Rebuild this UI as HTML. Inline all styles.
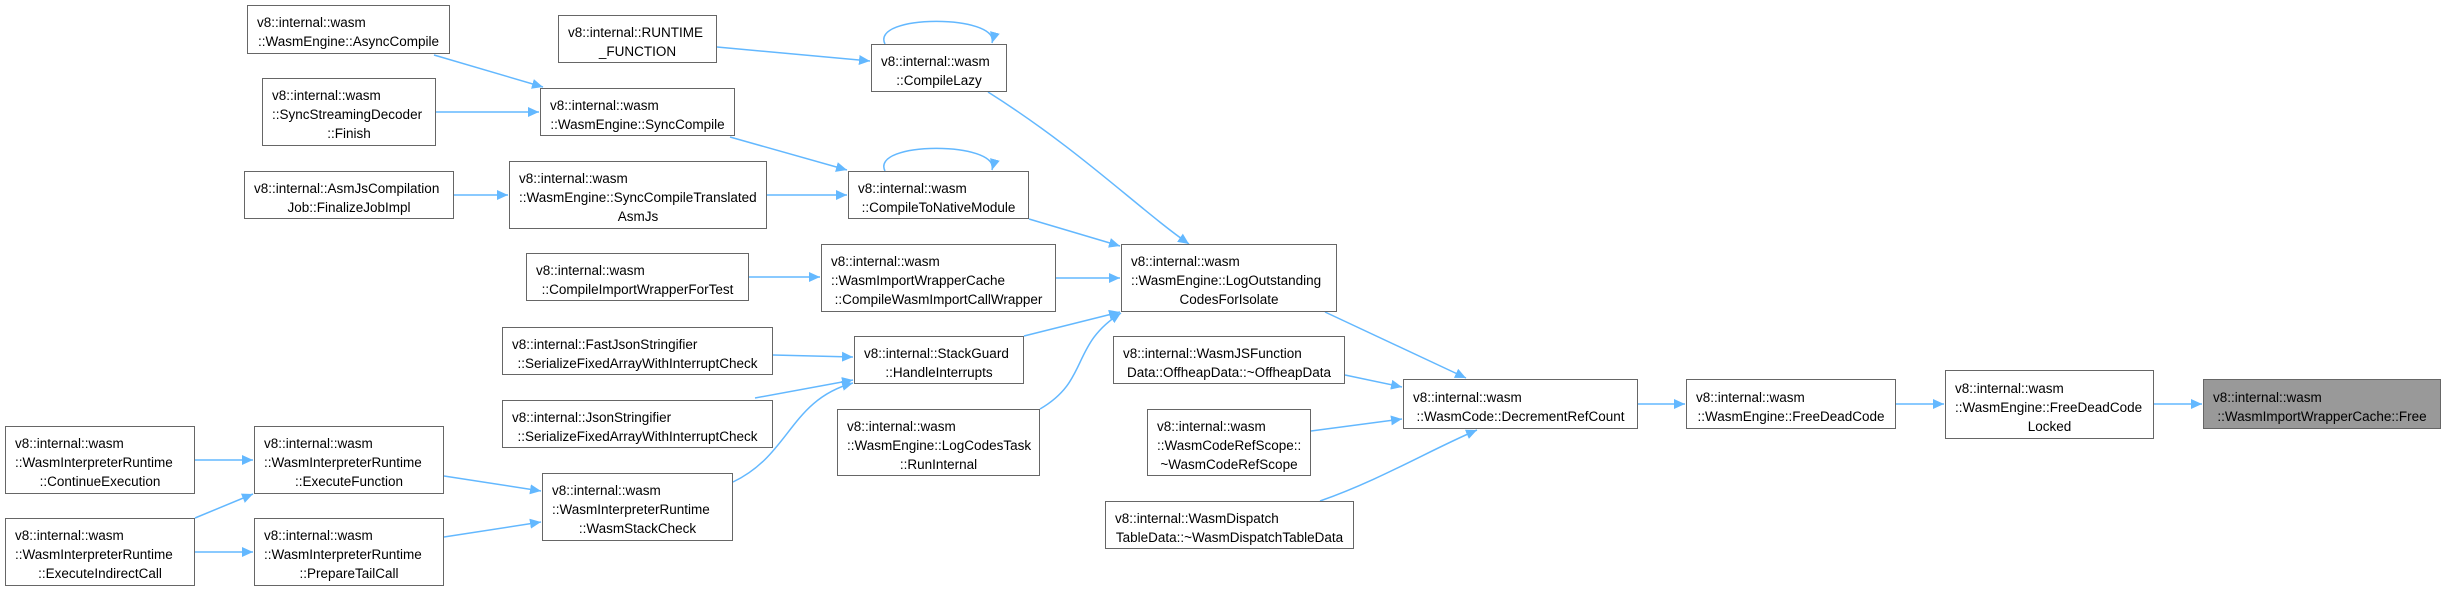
<!DOCTYPE html>
<html><head><meta charset="utf-8"><style>
body{margin:0;width:2442px;height:592px;background:#fff;position:relative;overflow:hidden;font-family:"Liberation Sans","DejaVu Sans",sans-serif;}
.n{position:absolute;box-sizing:border-box;border:1.5px solid #666;background:#fff;font-size:13.5px;line-height:19px;color:#000;padding:5px 9px 0 9px;white-space:nowrap;display:flex;flex-direction:column;justify-content:center;}
.n div{text-align:left}
.n div.c{text-align:center}
svg{position:absolute;left:0;top:0}
</style></head><body>
<svg width="2442" height="592">
<defs><marker id="a" markerWidth="12" markerHeight="10" refX="11" refY="5" orient="auto" markerUnits="userSpaceOnUse"><path d="M0,0 L11,5 L0,10 z" fill="#63b8ff"/></marker></defs>
<g stroke="#63b8ff" stroke-width="1.5" fill="none" marker-end="url(#a)">
<path d="M434,55 L543,87"/>
<path d="M436,112 L539,112"/>
<path d="M454,195 L508,195"/>
<path d="M717,47 L870,61"/>
<path d="M730,137 L847,170"/>
<path d="M767,195 L847,195"/>
<path d="M749,277 L820,277"/>
<path d="M773,355 L853,357"/>
<path d="M755,398 L853,380"/>
<path d="M733,482 C790,455 790,400 853,383"/>
<path d="M195,460 L253,460"/>
<path d="M195,518 L253,494"/>
<path d="M195,552 L253,552"/>
<path d="M444,476 L541,491"/>
<path d="M444,537 L541,522"/>
<path d="M988,92 C1080,150 1140,210 1189,244"/>
<path d="M1029,219 L1120,246"/>
<path d="M1056,278 L1120,278"/>
<path d="M1024,336 L1120,312"/>
<path d="M1040,409 C1090,380 1070,345 1121,313"/>
<path d="M885,44 C870,14 1000,14 992,43"/>
<path d="M885,171 C870,141 1000,141 992,170"/>
<path d="M1325,312 L1466,378"/>
<path d="M1345,375 L1402,387"/>
<path d="M1311,431 L1402,419"/>
<path d="M1320,501 C1380,480 1430,450 1477,430"/>
<path d="M1638,404 L1685,404"/>
<path d="M1896,404 L1944,404"/>
<path d="M2154,404 L2202,404"/>
</g></svg>

<div class="n" style="left:247px;top:5px;width:203px;height:49px"><div>v8::internal::wasm</div><div class="c">::WasmEngine::AsyncCompile</div></div>
<div class="n" style="left:262px;top:78px;width:174px;height:68px"><div>v8::internal::wasm</div><div>::SyncStreamingDecoder</div><div class="c">::Finish</div></div>
<div class="n" style="left:244px;top:171px;width:210px;height:48px"><div>v8::internal::AsmJsCompilation</div><div class="c">Job::FinalizeJobImpl</div></div>
<div class="n" style="left:558px;top:15px;width:159px;height:48px"><div>v8::internal::RUNTIME</div><div class="c">_FUNCTION</div></div>
<div class="n" style="left:540px;top:88px;width:195px;height:48px"><div>v8::internal::wasm</div><div class="c">::WasmEngine::SyncCompile</div></div>
<div class="n" style="left:509px;top:161px;width:258px;height:68px"><div>v8::internal::wasm</div><div>::WasmEngine::SyncCompileTranslated</div><div class="c">AsmJs</div></div>
<div class="n" style="left:526px;top:253px;width:223px;height:48px"><div>v8::internal::wasm</div><div class="c">::CompileImportWrapperForTest</div></div>
<div class="n" style="left:502px;top:327px;width:271px;height:48px"><div>v8::internal::FastJsonStringifier</div><div class="c">::SerializeFixedArrayWithInterruptCheck</div></div>
<div class="n" style="left:502px;top:400px;width:271px;height:48px"><div>v8::internal::JsonStringifier</div><div class="c">::SerializeFixedArrayWithInterruptCheck</div></div>
<div class="n" style="left:5px;top:426px;width:190px;height:68px"><div>v8::internal::wasm</div><div>::WasmInterpreterRuntime</div><div class="c">::ContinueExecution</div></div>
<div class="n" style="left:254px;top:426px;width:190px;height:68px"><div>v8::internal::wasm</div><div>::WasmInterpreterRuntime</div><div class="c">::ExecuteFunction</div></div>
<div class="n" style="left:5px;top:518px;width:190px;height:68px"><div>v8::internal::wasm</div><div>::WasmInterpreterRuntime</div><div class="c">::ExecuteIndirectCall</div></div>
<div class="n" style="left:254px;top:518px;width:190px;height:68px"><div>v8::internal::wasm</div><div>::WasmInterpreterRuntime</div><div class="c">::PrepareTailCall</div></div>
<div class="n" style="left:542px;top:473px;width:191px;height:68px"><div>v8::internal::wasm</div><div>::WasmInterpreterRuntime</div><div class="c">::WasmStackCheck</div></div>
<div class="n" style="left:871px;top:44px;width:136px;height:48px"><div>v8::internal::wasm</div><div class="c">::CompileLazy</div></div>
<div class="n" style="left:848px;top:171px;width:181px;height:48px"><div>v8::internal::wasm</div><div class="c">::CompileToNativeModule</div></div>
<div class="n" style="left:821px;top:244px;width:235px;height:68px"><div>v8::internal::wasm</div><div>::WasmImportWrapperCache</div><div class="c">::CompileWasmImportCallWrapper</div></div>
<div class="n" style="left:1121px;top:244px;width:216px;height:68px"><div>v8::internal::wasm</div><div>::WasmEngine::LogOutstanding</div><div class="c">CodesForIsolate</div></div>
<div class="n" style="left:854px;top:336px;width:170px;height:48px"><div>v8::internal::StackGuard</div><div class="c">::HandleInterrupts</div></div>
<div class="n" style="left:837px;top:409px;width:203px;height:67px"><div>v8::internal::wasm</div><div>::WasmEngine::LogCodesTask</div><div class="c">::RunInternal</div></div>
<div class="n" style="left:1113px;top:336px;width:232px;height:48px"><div>v8::internal::WasmJSFunction</div><div class="c">Data::OffheapData::~OffheapData</div></div>
<div class="n" style="left:1147px;top:409px;width:164px;height:67px"><div>v8::internal::wasm</div><div>::WasmCodeRefScope::</div><div class="c">~WasmCodeRefScope</div></div>
<div class="n" style="left:1105px;top:501px;width:249px;height:48px"><div>v8::internal::WasmDispatch</div><div class="c">TableData::~WasmDispatchTableData</div></div>
<div class="n" style="left:1403px;top:379px;width:235px;height:50px"><div>v8::internal::wasm</div><div class="c">::WasmCode::DecrementRefCount</div></div>
<div class="n" style="left:1686px;top:379px;width:210px;height:50px"><div>v8::internal::wasm</div><div class="c">::WasmEngine::FreeDeadCode</div></div>
<div class="n" style="left:1945px;top:370px;width:209px;height:69px"><div>v8::internal::wasm</div><div>::WasmEngine::FreeDeadCode</div><div class="c">Locked</div></div>
<div class="n" style="left:2203px;top:379px;width:238px;height:50px;background:#999"><div>v8::internal::wasm</div><div class="c">::WasmImportWrapperCache::Free</div></div>
</body></html>
